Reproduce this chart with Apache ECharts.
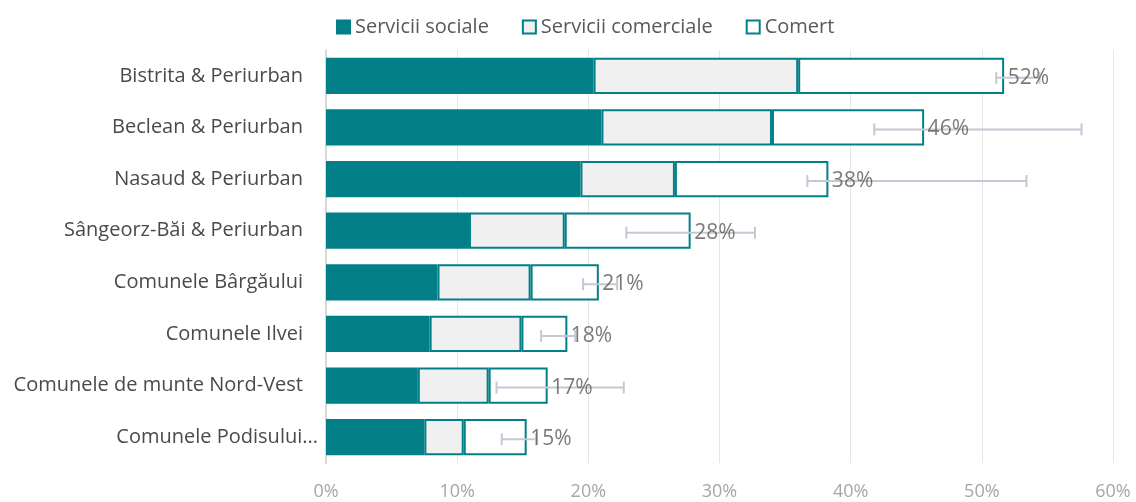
<!DOCTYPE html>
<html>
<head>
<meta charset="utf-8">
<script src="https://cdn.jsdelivr.net/npm/echarts@6/dist/echarts.min.js"></script>
<style>
  html, body { margin: 0; padding: 0; background: #fff; }
  #main { width: 1136px; height: 502px; }
</style>
</head>
<body>
<div id="main"></div>
<script>
// zone names, top to bottom
const zones = [
  'Bistrita & Periurban',
  'Beclean & Periurban',
  'Nasaud & Periurban',
  'Sângeorz-Băi & Periurban',
  'Comunele Bârgăului',
  'Comunele Ilvei',
  'Comunele de munte Nord-Vest',
  'Comunele Podisului...'
]
// shares in %
const sociale = [20.4, 21.0, 19.4, 10.9, 8.5, 7.9, 7.0, 7.5]
const comerciale = [15.6, 13.0, 7.2, 7.3, 7.1, 7.0, 5.4, 3.0]
const comert = [15.7, 11.6, 11.7, 9.6, 5.2, 3.5, 4.5, 4.8]
// error bar ends
const errLow = [51.1, 41.8, 36.7, 22.9, 19.6, 16.4, 13.0, 13.4]
const errHigh = [54.4, 57.6, 53.4, 32.7, 22.2, 19.0, 22.7, 16.0]
const xTicks = [0, 10, 20, 30, 40, 50, 60]

const teal = '#037f87'
const font = '"Open Sans", sans-serif'

const totals = sociale.map((v, i) => +(v + comerciale[i] + comert[i]).toFixed(1))

const chart = echarts.init(document.getElementById('main'))

// last label sticks out a bit in the original
const yData = zones.map((z, i) => i === zones.length - 1
  ? { value: z, textStyle: { padding: [0, -15, 0, 0] } }
  : z)

const option = {
  animation: false,
  textStyle: { fontFamily: font },
  legend: {
    data: ['Servicii sociale', 'Servicii comerciale', 'Comert'],
    top: 12,
    left: 331,
    icon: 'rect',
    itemWidth: 13,
    itemHeight: 13,
    itemGap: 33,
    textStyle: { fontSize: 20, color: '#595959', fontFamily: font }
  },
  grid: { left: 326, right: 23, top: 50, bottom: 39 },
  xAxis: {
    type: 'value',
    min: xTicks[0],
    max: xTicks[xTicks.length - 1],
    interval: 10,
    axisLine: { show: false },
    axisTick: { show: false },
    axisLabel: { formatter: '{value}%', color: '#a6a6a6', fontSize: 18, margin: 20 },
    splitLine: { lineStyle: { color: '#e6e6e6', width: 1 } }
  },
  yAxis: {
    type: 'category',
    inverse: true,
    data: yData,
    axisLine: { lineStyle: { color: '#d9d9d9', width: 2 } },
    axisTick: { show: false },
    axisLabel: { color: '#4a4a4a', fontSize: 20, margin: 23 }
  },
  series: [
    {
      name: 'Servicii sociale',
      type: 'bar',
      stack: 'total',
      barCategoryGap: '30%',
      data: sociale,
      itemStyle: { color: teal, borderColor: teal, borderWidth: 2 }
    },
    {
      name: 'Servicii comerciale',
      type: 'bar',
      stack: 'total',
      data: comerciale,
      itemStyle: { color: '#f0f0f0', borderColor: teal, borderWidth: 2 }
    },
    {
      name: 'Comert',
      type: 'bar',
      stack: 'total',
      data: comert,
      itemStyle: { color: '#ffffff', borderColor: teal, borderWidth: 2 }
    },
    {
      name: 'err',
      type: 'custom',
      z: 5,
      data: zones.map((z, i) => [i, errLow[i], errHigh[i]]),
      encode: { x: [1, 2], y: 0 },
      renderItem: function (params, api) {
        const idx = api.value(0)
        const a = api.coord([api.value(1), idx])
        const b = api.coord([api.value(2), idx])
        const y = a[1] + 2
        const st = { stroke: '#c5c8d4', lineWidth: 2 }
        return {
          type: 'group',
          children: [
            { type: 'line', shape: { x1: a[0], y1: y, x2: b[0], y2: y }, style: st },
            { type: 'line', shape: { x1: a[0], y1: y - 6, x2: a[0], y2: y + 6 }, style: st },
            { type: 'line', shape: { x1: b[0], y1: y - 6, x2: b[0], y2: y + 6 }, style: st }
          ]
        }
      }
    },
    {
      name: 'totals',
      type: 'scatter',
      z: 10,
      symbol: 'rect',
      symbolSize: 1,
      itemStyle: { color: 'rgba(0,0,0,0)' },
      data: totals.map((t, i) => [t, i]),
      label: {
        show: true,
        position: 'right',
        distance: 3,
        offset: [0, 2],
        color: '#595959',
        fontSize: 21,
        formatter: p => Math.round(p.value[0]) + '%'
      }
    }
  ]
}

chart.setOption(option)
</script>
</body>
</html>
